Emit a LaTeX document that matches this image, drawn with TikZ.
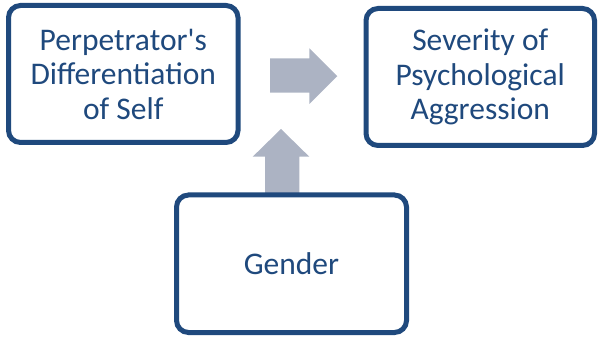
\documentclass[tikz,border=0pt]{standalone}
\usepackage{fontspec}
\setmainfont{Carlito}[Ligatures=TeXOff]
\definecolor{boxblue}{RGB}{31,73,125}
\definecolor{arrowgray}{RGB}{172,179,195}
\begin{document}
\begin{tikzpicture}[x=1pt,y=-1pt,
  box/.style={draw=boxblue, line width=5pt, fill=white, rounded corners=12pt,
    text=boxblue, align=center, inner sep=0pt,
    font=\fontsize{31.5}{34.5}\selectfont},
  bigarrow/.style={fill=arrowgray, draw=none}]
\useasboundingbox (0,0) rectangle (605,339);
% arrows
\fill[bigarrow] (270,58.3) -- (309.3,58.3) -- (309.3,48.3) -- (337.3,76.2) -- (309.3,104) -- (309.3,92.7) -- (270,92.7) -- cycle;
\fill[bigarrow] (265,200) -- (265,156.7) -- (252.7,156.7) -- (281,129) -- (309.3,156.7) -- (299.3,156.7) -- (299.3,200) -- cycle;
% boxes
\node[box, minimum width=229.5pt, minimum height=137pt] (self) at (123.25,74) {Perpetrator's\\Differentiation\\of Self};
\node[box, minimum width=228.5pt, minimum height=137pt] (sev) at (480.25,77) {Severity of\\Psychological\\Aggression};
\node[box, minimum width=230pt, minimum height=137.5pt] (gender) at (291.5,263.75) {Gender};
\end{tikzpicture}
\end{document}
